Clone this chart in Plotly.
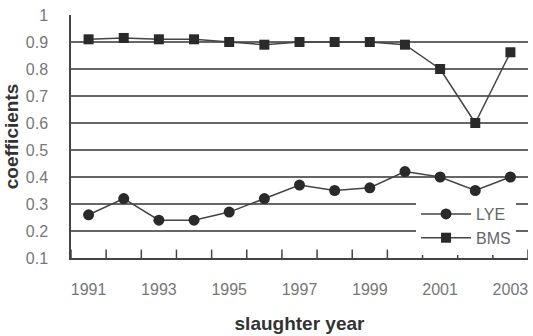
import plotly.graph_objects as go

years = list(range(1991, 2004))
lye = [0.26, 0.32, 0.24, 0.24, 0.27, 0.32, 0.37, 0.35, 0.36, 0.42, 0.40, 0.35, 0.40]
bms = [0.91, 0.915, 0.91, 0.91, 0.90, 0.89, 0.90, 0.90, 0.90, 0.89, 0.80, 0.60, 0.862]
xtick_vals = [1991, 1993, 1995, 1997, 1999, 2001, 2003]
ytick_vals = [0.1, 0.2, 0.3, 0.4, 0.5, 0.6, 0.7, 0.8, 0.9, 1.0]
ytick_text = ["0.1", "0.2", "0.3", "0.4", "0.5", "0.6", "0.7", "0.8", "0.9", "1"]
boundaries = [y - 0.5 for y in years] + [years[-1] + 0.5]

fig = go.Figure()
# category-boundary tick marks (inside, upward): half of each marker is clipped by the axis
fig.add_trace(go.Scatter(x=boundaries, y=[ytick_vals[0]] * len(boundaries), mode="markers",
                         marker=dict(symbol="line-ns-open", size=12, color="#444",
                                     line=dict(color="#444", width=1.5)),
                         cliponaxis=True, showlegend=False, hoverinfo="skip"))
fig.add_trace(go.Scatter(x=years, y=lye, name="LYE", mode="lines+markers",
                         line=dict(color="#444", width=1.5),
                         marker=dict(symbol="circle", size=11, color="#2a2a2a")))
fig.add_trace(go.Scatter(x=years, y=bms, name="BMS", mode="lines+markers",
                         line=dict(color="#444", width=1.5),
                         marker=dict(symbol="square", size=10, color="#2a2a2a")))

fig.update_layout(
    width=533, height=336,
    margin=dict(l=71, r=5, t=15, b=78),
    paper_bgcolor="white", plot_bgcolor="white",
    font=dict(family="Liberation Sans, Arial, sans-serif", size=16, color="#777"),
    showlegend=True,
    legend=dict(x=0.755, y=0.251, xanchor="left", yanchor="top",
                bgcolor="white", font=dict(size=16, color="#666"),
                tracegroupgap=0, itemwidth=50),
    xaxis=dict(range=[1990.5, 2003.5], tickvals=xtick_vals,
               ticktext=[str(v) for v in xtick_vals], tickangle=0,
               ticks="", showgrid=False, zeroline=False, automargin=False,
               showline=True, linecolor="#444", linewidth=1.5,
               ticklabelstandoff=16,
               title=dict(text="<b>slaughter year</b>", font=dict(size=19, color="#333"), standoff=20)),
    yaxis=dict(range=[0.1, 1.0], tickvals=ytick_vals, ticktext=ytick_text,
               ticks="", showgrid=True, gridcolor="#666", gridwidth=1.5, zeroline=False,
               showline=True, linecolor="#444", linewidth=1.5, automargin=False,
               ticklabelstandoff=18,
               title=dict(text="<b>coefficients</b>", font=dict(size=19, color="#333"), standoff=2)),
)

fig.write_html("out.html")
